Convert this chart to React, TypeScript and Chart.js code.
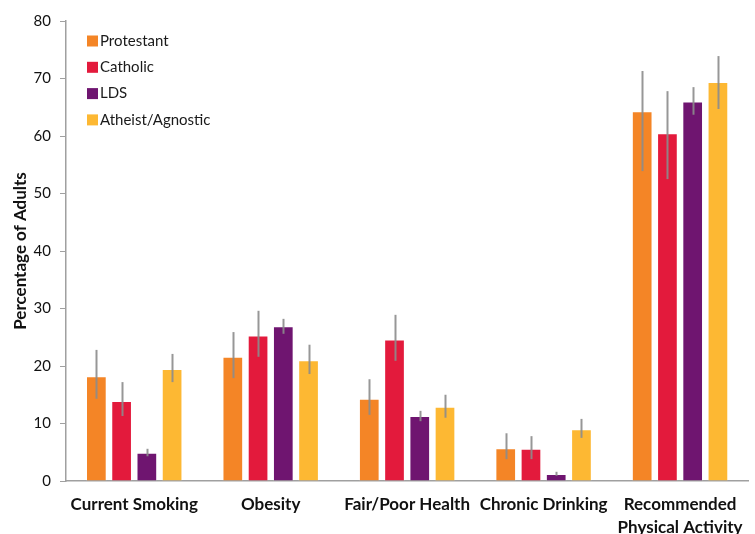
import React, { useEffect, useRef } from "react";
import { Chart, registerables } from "chart.js";

Chart.register(...registerables);

const categories: (string | string[])[] = [
  "Current Smoking",
  "Obesity",
  "Fair/Poor Health",
  "Chronic Drinking",
  ["Recommended", "Physical Activity"],
];
const seriesNames = ["Protestant", "Catholic", "LDS", "Atheist/Agnostic"];
const seriesColors = ["#F48526", "#E31A3C", "#6F1570", "#FDB833"];

const protestant = [18.2, 21.6, 14.3, 5.7, 64.3];
const protestantLow = [14.3, 17.9, 11.5, 3.8, 53.9];
const protestantHigh = [22.8, 25.9, 17.7, 8.3, 71.3];

const catholic = [13.9, 25.3, 24.6, 5.6, 60.5];
const catholicLow = [11.3, 21.6, 20.9, 3.8, 52.5];
const catholicHigh = [17.2, 29.6, 28.9, 7.8, 67.8];

const lds = [4.9, 26.9, 11.3, 1.2, 66.0];
const ldsLow = [4.3, 25.6, 10.4, 0.9, 63.7];
const ldsHigh = [5.6, 28.2, 12.2, 1.6, 68.5];

const atheist = [19.5, 21.0, 12.9, 9.0, 69.4];
const atheistLow = [17.2, 18.6, 11.0, 7.5, 64.7];
const atheistHigh = [22.1, 23.7, 15.0, 10.8, 73.9];

const seriesValues = [protestant, catholic, lds, atheist];
const seriesLow = [protestantLow, catholicLow, ldsLow, atheistLow];
const seriesHigh = [protestantHigh, catholicHigh, ldsHigh, atheistHigh];

const FONT = "Lato, 'Open Sans', sans-serif";

const errorBarPlugin = {
  id: "errorBars",
  afterDatasetsDraw(chart: any) {
    const ctx = chart.ctx;
    const y = chart.scales.y;
    ctx.save();
    ctx.strokeStyle = "rgba(140,140,140,0.9)";
    ctx.lineWidth = 2;
    chart.data.datasets.forEach((ds: any, i: number) => {
      const meta = chart.getDatasetMeta(i);
      meta.data.forEach((el: any, j: number) => {
        const top = y.getPixelForValue(seriesHigh[i][j]);
        const bot = y.getPixelForValue(seriesLow[i][j]);
        ctx.beginPath();
        ctx.moveTo(Math.round(el.x) + 0.5, top);
        ctx.lineTo(Math.round(el.x) + 0.5, bot);
        ctx.stroke();
      });
    });
    ctx.restore();
  },
};

const legendPlugin = {
  id: "insideLegend",
  afterDraw(chart: any) {
    const ctx = chart.ctx;
    const area = chart.chartArea;
    ctx.save();
    ctx.font = `15px ${FONT}`;
    ctx.textBaseline = "middle";
    ctx.textAlign = "left";
    chart.data.datasets.forEach((ds: any, i: number) => {
      const cy = area.top + 20 + i * 26.3;
      ctx.fillStyle = ds.backgroundColor;
      ctx.fillRect(area.left + 21, cy - 5.5, 11, 11);
      ctx.fillStyle = "#1a1a1a";
      ctx.fillText(ds.label, area.left + 34, cy);
    });
    ctx.restore();
  },
};

export default function App() {
  const ref = useRef<HTMLCanvasElement | null>(null);
  useEffect(() => {
    document.body.style.margin = "0";
    if (!ref.current) return;
    const chart = new Chart(ref.current, {
      type: "bar",
      data: {
        labels: categories,
        datasets: seriesNames.map((name, i) => ({
          label: name,
          data: seriesValues[i],
          backgroundColor: seriesColors[i],
          borderColor: "rgba(255,255,255,0.35)",
          borderWidth: 1,
          barPercentage: 0.82,
          categoryPercentage: 0.74,
        })),
      },
      options: {
        animation: false,
        responsive: false,
        maintainAspectRatio: false,
        layout: { padding: { top: 21, right: 5, left: 0, bottom: 0 } },
        plugins: {
          legend: { display: false },
          tooltip: { enabled: false },
        },
        scales: {
          x: {
            grid: { display: false, drawTicks: false },
            border: { display: true, color: "#a0a0a0", width: 1.5 },
            ticks: {
              color: "#111",
              font: { family: FONT, size: 17, weight: "bold", lineHeight: 1.35 },
              padding: 12,
              maxRotation: 0,
              autoSkip: false,
            },
            afterFit(scale: any) {
              scale.height = 53;
            },
          },
          y: {
            min: 0,
            max: 80,
            ticks: {
              stepSize: 10,
              color: "#111",
              font: { family: FONT, size: 15 },
              padding: 9,
            },
            grid: {
              drawOnChartArea: false,
              drawTicks: true,
              tickLength: 6,
              color: "#a0a0a0",
            },
            border: { display: true, color: "#a0a0a0", width: 1.5 },
            title: {
              display: true,
              text: "Percentage of Adults",
              color: "#111",
              font: { family: FONT, size: 17, weight: "bold" },
              padding: { top: 10, bottom: 4 },
            },
            afterFit(scale: any) {
              scale.width = 66;
            },
          },
        },
      },
      plugins: [errorBarPlugin, legendPlugin],
    });
    return () => chart.destroy();
  }, []);
  return (
    <div style={{ width: 755, height: 534 }}>
      <canvas ref={ref} width={755} height={534} style={{ display: "block" }} />
    </div>
  );
}
